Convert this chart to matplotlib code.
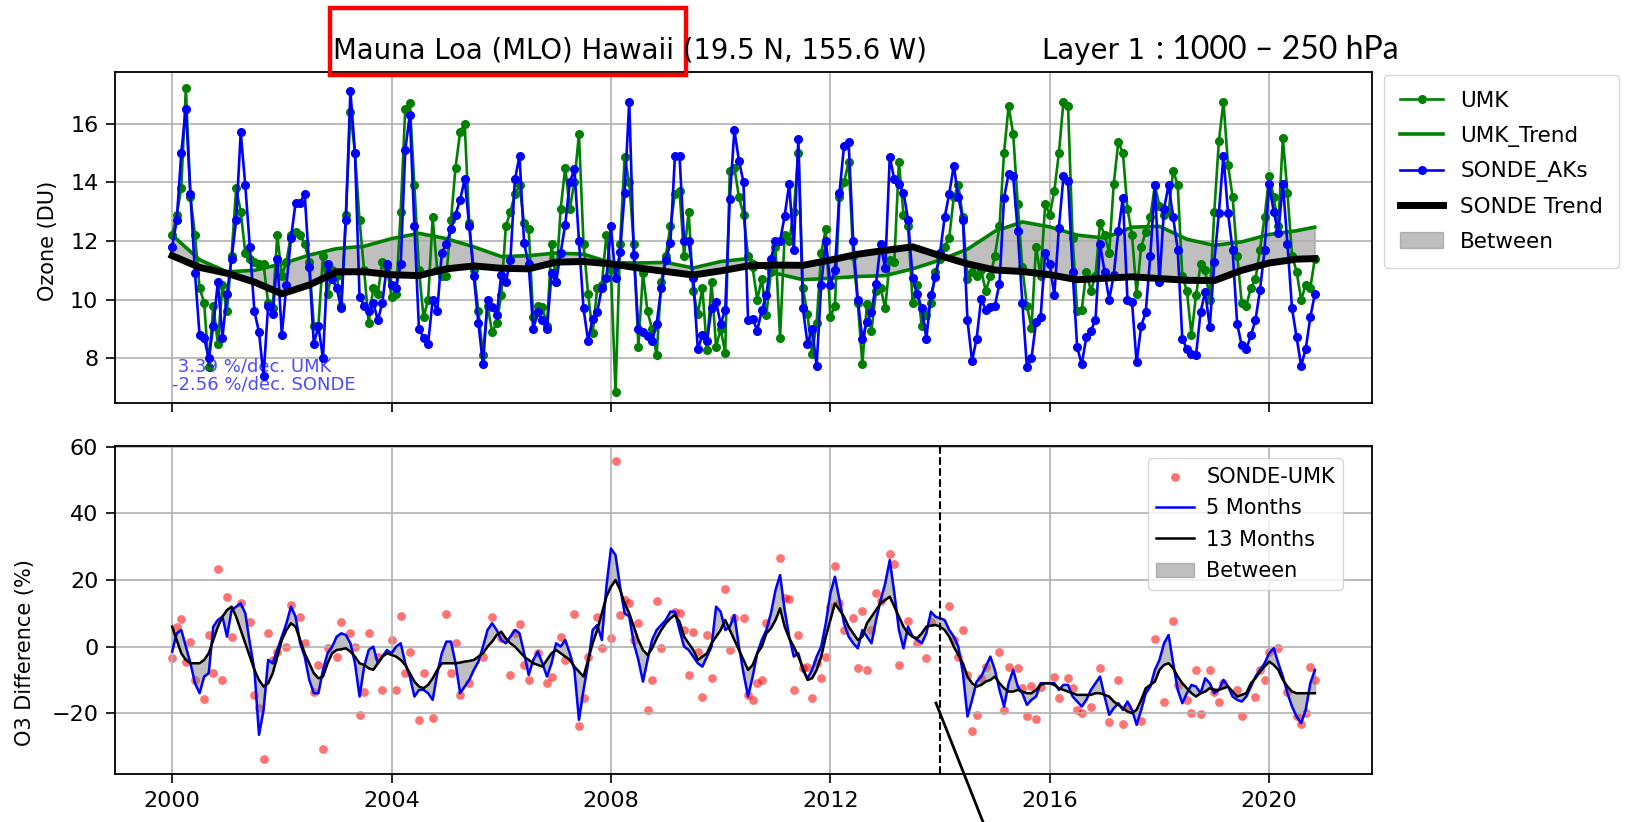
import numpy as np
import matplotlib
matplotlib.use("Agg")
import matplotlib.pyplot as plt
from matplotlib.lines import Line2D
from matplotlib.patches import Rectangle

# Monthly ozone, layer 1 (DU), Jan 2000 .. Nov 2020
umk = [
    12.2, 12.9, 13.8, 17.2, 13.5, 12.2, 10.4, 9.9, 7.7, 9.8, 8.5, 10.5,
    9.6, 11.5, 13.8, 13.0, 11.6, 11.4, 11.3, 11.2, 11.2, 9.9, 9.7, 12.2,
    10.8, 11.3, 12.2, 12.3, 12.2, 11.9, 11.3, 9.1, 9.1, 11.5, 10.2, 11.0,
    10.8, 9.8, 12.9, 16.4, 15.0, 12.7, 11.0, 9.2, 10.4, 10.2, 11.3, 11.1,
    10.1, 10.2, 13.0, 16.5, 16.7, 13.9, 11.0, 9.4, 10.0, 12.8, 11.0, 10.8,
    10.8, 12.7, 14.5, 15.7, 16.0, 12.6, 11.0, 9.6, 8.1, 9.8, 8.9, 9.2,
    10.15, 12.5, 13.0, 13.6, 13.9, 12.6, 12.4, 9.4, 9.8, 9.75, 9.1, 11.9,
    10.6, 13.1, 14.5, 13.1, 14.0, 15.65, 11.9, 10.2, 8.85, 10.4, 10.5, 12.2,
    11.0, 6.85, 11.9, 14.85, 14.0, 11.9, 8.4, 10.9, 9.6, 9.0, 8.1, 10.6,
    11.5, 12.5, 13.6, 13.7, 11.5, 13.0, 10.3, 9.5, 10.4, 8.3, 10.6, 8.4,
    9.0, 8.2, 14.4, 14.5, 13.5, 12.9, 11.5, 11.1, 10.0, 10.7, 9.47, 10.96,
    11.8, 8.7, 12.2, 12.0, 13.0, 15.0, 10.4, 9.5, 8.15, 9.2, 11.6, 12.4,
    9.4, 9.8, 13.5, 14.0, 14.7, 11.5, 9.9, 7.8, 9.85, 8.95, 10.3, 10.4,
    9.7, 11.35, 11.3, 14.7, 12.9, 12.5, 9.9, 10.5, 9.1, 9.47, 9.9, 10.96,
    11.4, 11.8, 12.1, 13.5, 13.9, 12.8, 10.7, 10.96, 10.8, 11.0, 10.3, 10.8,
    11.5, 12.5, 15.0, 16.6, 15.65, 13.25, 11.1, 9.8, 9.05, 11.8, 10.8, 13.25,
    12.9, 13.7, 15.0, 16.75, 16.6, 12.1, 9.6, 9.65, 10.96, 10.3, 10.8, 12.6,
    12.2, 11.6, 13.94, 15.37, 15.0, 13.1, 12.2, 10.2, 11.8, 12.3, 12.8, 13.9,
    13.2, 12.9, 13.0, 14.4, 13.9, 10.8, 10.3, 8.8, 10.15, 11.2, 11.0, 10.0,
    13.0, 15.4, 16.75, 14.6, 13.5, 11.5, 9.9, 9.8, 10.4, 10.7, 11.7, 12.8,
    14.2, 13.5, 12.5, 15.5, 13.65, 11.5, 10.96, 10.0, 10.5, 10.4, 11.4,
]

sonde = [
    11.8, 12.7, 15.0, 16.5, 13.6, 10.9, 8.8, 8.7, 8.0, 9.1, 10.6, 8.7,
    10.2, 11.4, 12.7, 15.7, 13.9, 11.8, 9.6, 8.9, 7.4, 9.8, 9.5, 11.4,
    8.8, 10.5, 12.1, 13.3, 13.3, 13.6, 11.1, 8.5, 9.1, 8.0, 11.2, 10.7,
    10.4, 9.7, 12.7, 17.1, 15.0, 10.1, 9.8, 9.6, 9.9, 9.3, 9.9, 11.2,
    10.5, 10.4, 11.2, 15.1, 16.3, 12.5, 9.0, 8.7, 8.5, 10.0, 9.6, 11.6,
    11.9, 12.4, 12.9, 13.4, 14.1, 12.5, 10.8, 9.2, 7.8, 10.0, 9.75, 9.47,
    10.84, 10.6, 11.35, 14.1, 14.9, 11.93, 11.2, 9.0, 9.58, 9.3, 9.0, 10.9,
    10.6, 11.6, 12.56, 14.0, 14.45, 12.0, 9.7, 8.6, 9.35, 9.58, 10.4, 10.73,
    12.5, 10.73, 11.64, 13.65, 16.75, 11.53, 9.0, 8.9, 8.75, 8.6, 9.18, 10.4,
    11.35, 11.93, 14.9, 14.9, 12.0, 12.0, 10.73, 8.32, 8.78, 8.6, 9.7, 9.92,
    9.18, 9.64, 13.42, 15.77, 14.74, 14.0, 9.3, 9.35, 8.95, 9.64, 10.15, 11.4,
    12.0, 12.0, 12.85, 13.94, 11.7, 15.48, 9.7, 8.5, 9.0, 7.75, 10.5, 12.0,
    10.5, 11.0, 13.65, 15.25, 15.37, 12.0, 10.0, 8.67, 9.24, 9.58, 10.55, 11.9,
    11.07, 14.85, 14.1, 13.94, 13.65, 12.73, 10.73, 10.2, 9.7, 8.67, 10.15, 10.78,
    11.6, 12.8, 13.6, 14.57, 13.5, 12.73, 9.3, 7.92, 8.67, 10.04, 9.64, 9.75,
    9.8, 10.55, 13.48, 14.28, 14.2, 12.33, 9.9, 7.7, 8.0, 9.24, 9.4, 11.6,
    11.2, 10.15, 12.45, 14.2, 14.05, 10.96, 8.38, 7.8, 8.72, 8.95, 9.3, 11.9,
    10.96, 10.0, 10.84, 12.33, 13.48, 10.0, 9.92, 7.86, 9.1, 9.58, 11.5, 13.9,
    10.6, 13.1, 13.9, 12.8, 11.7, 8.67, 8.32, 8.15, 8.1, 9.58, 10.27, 9.07,
    11.3, 12.96, 14.9, 12.96, 11.7, 9.18, 8.44, 8.32, 8.78, 9.3, 10.33, 11.7,
    13.94, 13.0, 12.28, 13.94, 11.9, 9.7, 8.72, 7.75, 8.32, 9.4, 10.2,
]

# Smooth trends, read every half year
trend_years = [2000.0, 2000.5, 2001.0, 2001.5, 2002.0, 2002.5, 2003.0, 2003.5,
               2004.0, 2004.5, 2005.0, 2005.5, 2006.0, 2006.5, 2007.0, 2007.5,
               2008.0, 2008.5, 2009.0, 2009.5, 2010.0, 2010.5, 2011.0, 2011.5,
               2012.0, 2012.5, 2013.0, 2013.5, 2014.0, 2014.5, 2015.0, 2015.5,
               2016.0, 2016.5, 2017.0, 2017.5, 2018.0, 2018.5, 2019.0, 2019.5,
               2020.0, 2020.5, 2020.83]
umk_trend = [12.2, 11.36, 10.95, 11.0, 11.22, 11.52, 11.74, 11.82,
             12.08, 12.26, 12.08, 11.8, 11.47, 11.5, 11.59, 11.55,
             11.26, 11.25, 11.27, 11.08, 11.3, 11.4, 10.9, 10.68,
             10.73, 10.79, 10.82, 11.05, 11.35, 11.72, 12.33, 12.65,
             12.48, 12.2, 12.1, 12.47, 12.5, 12.06, 11.85, 11.97,
             12.22, 12.35, 12.47]
sonde_trend = [11.5, 11.1, 10.9, 10.6, 10.2, 10.5, 10.95, 10.95,
               10.85, 10.82, 11.05, 11.15, 11.07, 11.05, 11.28, 11.3,
               11.22, 11.08, 10.96, 10.84, 10.98, 11.15, 11.18, 11.17,
               11.35, 11.55, 11.68, 11.8, 11.5, 11.22, 11.01, 10.96,
               10.85, 10.68, 10.73, 10.78, 10.72, 10.66, 10.65, 11.0,
               11.25, 11.38, 11.4]

# SONDE-UMK difference (%), None where no point is visible
diff = [
    -3.5, 5.8, 8.3, -4.5, 1.5, -10, None, -15.8, 3.5, -8, 23.2, -10,
    15, 3, None, 13, None, 7.5, -14.5, -18.5, -33.8, 4, -4, -1.5,
    None, 0, 12.5, None, 9, 1, None, -13.5, -5.5, -30.8, -0.5, None,
    -3, 7.5, None, 4, 0, -20.5, -13.5, 4, None, -3, -13, None,
    2, -13, 9.3, -8, -1.5, None, -22, -8, None, -21.5, None, None,
    9.8, -8, 1, -14.5, None, -11, None, None, -3, None, 8.8, None,
    2.5, None, -8.5, 4, 6.8, -5.5, -10, None, -1.8, None, -11, -9,
    None, 3, -4, None, 9.8, -23.8, -15.5, -3, None, 8.8, -0.5, None,
    2.5, 55.8, 9.5, 14, 13, 2, 7, None, -19, -10, 13.8, -0.5,
    None, None, 10.5, 10, 5, -8.5, 4.5, -1.5, -15, 3.5, -9.5, None,
    None, 17.2, -1, 8.5, None, 8.5, -14.5, -16, -11, -10, 7.2, None,
    None, 26.7, 14.5, 14.2, -13, 3.5, -6.5, -6, -15.5, -5, -9.5, -3.2,
    12, 24.2, 13, 5, None, 8.5, -6.5, 10.8, -7, 5, 16.2, 13.8,
    None, 27.8, 24.7, -5.5, None, 7.8, None, 1, None, -3.5, 7.5, None,
    None, None, 12.3, 2, -3.2, 5, -8.5, -25.3, -20.5, -9.5, -6.2, None,
    None, -1.5, -19, -6, None, -6.5, -12.5, -21, -11.8, -21.8, -12, None,
    None, -9, -15.5, None, -9.5, -12.5, -19, -20, None, -18, None, -6.5,
    None, -22.8, None, -10, -23.2, -18, None, None, -22.5, None, None, 2.2,
    None, -16.5, None, 7.8, -11.5, None, -16, -20, -7, -20.2, None, -7,
    -13.5, -16.5, -11, None, None, -13, -21, None, None, -15, -7, -10,
    -1.5, None, -0.5, None, -13.5, None, -20.8, -23.2, -20, -6, -10,
]

five_months = [
    -1.5, 4, 5, 0, -5, -11, -14, -9, -8, 6, 8, 9,
    3, 11, 12, 13, 10, 1, -7, -26.5, -19, -4, -5, -1,
    3, 7, 12, 9, 1, -3, -10, -14, -14, -7, -2, 0,
    3, 4, 3.5, 1, -5, -15, -6, -1, 0, -5, -3, -1,
    -2, 0, 1, -5, -9, -15, -13, -13, -14, -16, -8, -2,
    1.5, 1.5, -5, -14, -12, -10, -7, -4.5, 0, 5, 7, 5,
    2, 1, 3, 5, 4, -2, -8.5, -4, -1.5, -5, -9, -5,
    1, 0, 2, -2, -7, -22, -13, -5, 5, 6.5, 2, 18,
    29.5, 27.5, 18, 10, 9, 1, -4, -10.5, -4, 2, 5, 6.5,
    8, 10.5, 10.5, 5, 0, -1, -3, -5, -6, -3, 0, 12,
    10.5, 5, 6, 9.5, 0, -8, -15, -9, -2, 2, 5, 10,
    17, 21.5, 11, 3, -3, -2, -7, -9.5, -7, -3, 0, 7,
    16, 21, 14, 7, 3, 1, -0.5, 5, 3, 1, 8, 14,
    19, 26, 16, 5, -0.5, 6, 3, 2, 1, 4, 10.5, 9,
    8.5, 8, 5, 3, 0, -8, -21, -16, -10.5, -9, -6, -3,
    -7, -13, -18, -11, -7, -12, -14, -17.5, -16, -15, -11, -11,
    -11, -11, -13, -11.5, -11.5, -15, -16.5, -18, -16, -13, -11, -9,
    -15, -20.5, -18.5, -17, -19, -16.5, -19, -23.5, -19, -14, -12, -7,
    -4, 1, 3.5, -5, -13, -17, -14, -11.5, -12, -14, -9.5, -11,
    -14, -13, -10, -12, -15, -16, -16.5, -15, -12, -9, -7, -5,
    -2, -0.5, -5, -9, -14, -18, -21, -23, -19, -11, -7,
]

thirteen_months = [
    6, 2, -2, -4, -5, -5, -5, -4, -2, 2, 6, 9,
    11, 12, 9, 5, 1, -3, -7, -10, -12, -11, -8, -3,
    2, 5, 7, 6, 2, -2, -5, -8, -9.5, -9, -5, -2,
    -1, -0.8, -0.5, -1.5, -3, -5, -5.5, -6.5, -7, -5, -3, -2,
    -2.5, -3, -4, -5.5, -8, -10.5, -12, -12.5, -11.5, -9.5, -7, -5,
    -5, -5, -5, -4.8, -4.5, -4.3, -4, -3, -2, 0, 1.5, 3.5,
    4.5, 2.5, 1, 0, -1.5, -3, -4, -5, -5.5, -6, -4, -2,
    -1, -2, -3, -4, -6, -7.5, -9, -4, 1, 5, 10, 15,
    18, 20, 17, 13, 10, 6, 2, -1, -2.5, -0.5, 2.5, 5,
    7, 8.5, 9.5, 7.5, 3, 1, -1, -4, -3, -2, 1, 3,
    5, 8, 5, 2, -1, -4, -7, -5.5, -2, 0, 4, 5.5,
    8, 11.5, 6, 2.5, 0, -3, -6.5, -10, -9.5, -7, -3, 3,
    8, 13, 11, 9, 6, 4, 2, 3, 7, 9, 11, 13,
    14, 15, 12, 9, 6, 4, 3, 2.5, 4, 6, 6.3, 6.5,
    6, 5, 3, 0, -2.5, -5, -9, -11, -12, -11.5, -10.5, -10,
    -9, -11, -12.5, -13.5, -13.5, -13, -13.5, -14, -14, -13, -11.5, -11,
    -11, -11.5, -12.5, -13, -13.5, -14, -14.5, -14.5, -14.5, -14.5, -14, -14,
    -14.5, -15, -16.5, -17.5, -18.5, -19.5, -20, -19, -16, -12.5, -11.5, -10.5,
    -7, -5.5, -5, -6.5, -9, -11, -12.5, -14, -15, -14, -13.5, -12.5,
    -13, -13, -12.5, -12, -13.5, -15, -14.5, -14, -11, -9.5, -7.5, -6,
    -4.5, -5.5, -7, -10, -12, -13.5, -14, -14, -14, -14, -14,
]

umk_rate, sonde_rate = 3.39, -2.56

years = 2000 + np.arange(len(sonde)) / 12.0
diff = np.array(diff, dtype=float)

W, H = 1626, 822
fig = plt.figure(figsize=(W / 100, H / 100), dpi=100)
ax1 = fig.add_axes([115 / W, 1 - 403 / H, 1257 / W, 330.5 / H])
ax2 = fig.add_axes([115 / W, 1 - 774 / H, 1257 / W, 328 / H], sharex=ax1)

# top panel
ax1.plot(years, umk, '-o', color='green', lw=1.9, ms=5.5, label='UMK')
ax1.plot(trend_years, umk_trend, color='green', lw=2.6, label='UMK_Trend')
ax1.plot(years, sonde, '-o', color='blue', lw=1.9, ms=5.5, label='SONDE_AKs')
ax1.plot(trend_years, sonde_trend, color='black', lw=5, label='SONDE Trend')
ax1.fill_between(trend_years, umk_trend, sonde_trend, color='gray', alpha=0.5, label='Between')
ax1.text(2000, 7.72, f"{umk_rate:5.2f} %/dec. UMK", color='blue', alpha=0.7, fontsize=13, va='center')
ax1.text(2000, 7.12, f"{sonde_rate:5.2f} %/dec. SONDE", color='blue', alpha=0.7, fontsize=13, va='center')
ax1.set_ylim(6.48, 17.74)
ax1.set_ylabel('Ozone (DU)', fontsize=15)
ax1.yaxis.set_label_coords(-0.045, 0.49)
ax1.legend(loc='upper left', bbox_to_anchor=(1.0095, 0.993), borderaxespad=0, fontsize=15.5,
           labelspacing=0.68, borderpad=0.75)
ax1.tick_params(labelbottom=False)

# bottom panel
ax2.scatter(years, diff, color='red', alpha=0.55, s=40, linewidths=0, label='SONDE-UMK')
ax2.plot(years, five_months, color='blue', lw=1.8, label='5 Months')
ax2.plot(years, thirteen_months, color='black', lw=1.8, label='13 Months')
ax2.fill_between(years, five_months, thirteen_months, color='gray', alpha=0.5, label='Between')
ax2.axvline(2014, color='black', ls='--', lw=1.5)
ax2.set_ylabel('O3 Difference (%)', fontsize=15)
ax2.yaxis.set_label_coords(-0.064, 0.37)
ax2.legend(loc='upper right', bbox_to_anchor=(0.977, 0.962), borderaxespad=0, fontsize=15,
           labelspacing=0.55, handlelength=1.8, handletextpad=0.6)

ax2.set_xticks([2000, 2004, 2008, 2012, 2016, 2020])
ax2.set_xticklabels(['2000', '2004', '2008', '2012', '2016', '2020'])
for ax in (ax1, ax2):
    ax.grid(True, color='#b0b0b0', lw=1.2)
    ax.tick_params(labelsize=16, width=1.2, length=6.5, pad=5.5)
    for s in ax.spines.values():
        s.set_linewidth(1.3)

# header
fig.text(333 / W, 1 - 51 / H, 'Mauna Loa (MLO) Hawaii (19.5 N, 155.6 W)', fontsize=19.8, va='center')
fig.text(1042 / W, 1 - 51 / H, 'Layer 1', fontsize=19.8, va='center')
fig.text(1156 / W, 1 - 50 / H, ': 1000 \u2013 250 hPa', fontsize=23, family='Lato', va='center')
fig.add_artist(Rectangle((330 / W, 1 - 75 / H), 356 / W, 67 / H, fill=False,
                         edgecolor='red', lw=3.2, transform=fig.transFigure))
fig.add_artist(Line2D([936 / W, 983 / W], [1 - 703 / H, 0], color='black', lw=2,
                      transform=fig.transFigure))

fig.savefig('out.png', dpi=100)
